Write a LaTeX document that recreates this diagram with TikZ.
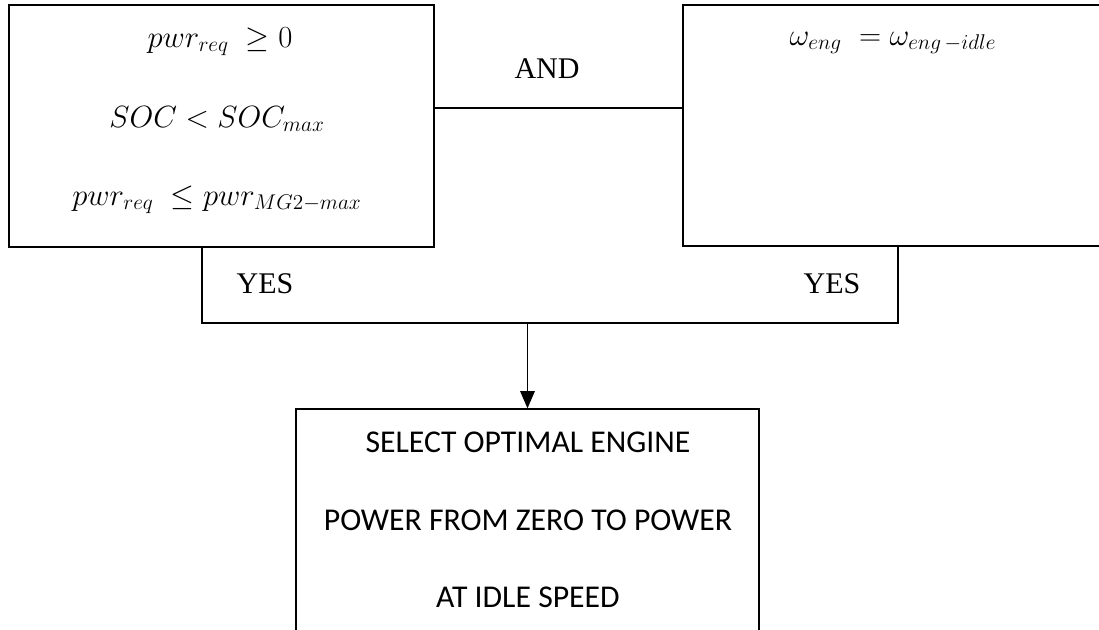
\documentclass[tikz,border=0pt]{standalone}
\usepackage{fontspec}
\setmainfont{Liberation Serif}
\newfontfamily\calfont{Carlito}
\usetikzlibrary{arrows.meta}
\newcommand{\mymath}[1]{\scalebox{1.109}{\fontsize{20.74}{25}\selectfont$#1$}}
\begin{document}
\begin{tikzpicture}[x=0.75pt,y=-0.75pt,
  box/.style={draw, line width=1.4pt, inner sep=0pt},
  edge/.style={line width=1.4pt},
  mathtxt/.style={anchor=base, inner sep=0pt},
  lbl/.style={font=\fontsize{22.5}{27}\selectfont, anchor=base, inner sep=0pt},
  seltxt/.style={font=\calfont\fontsize{23.8}{28}\selectfont, anchor=base, inner sep=0pt}]
\useasboundingbox (0,0) rectangle (1099,629);
% boxes
\node[box, minimum width=318.75pt, minimum height=181.5pt] (cond) at (221.5,126) {};
\node[box, minimum width=324pt, minimum height=180.75pt] (speed) at (899,125.5) {};
\node[minimum width=522pt, minimum height=57pt, inner sep=0pt] (yes) at (550,285) {};
\draw[edge] (yes.north west) -- (yes.south west) -- (yes.south east) -- (yes.north east);
\node[draw, line width=1pt, minimum width=347.25pt, minimum height=188.25pt, inner sep=0pt] (sel) at (527.5,534.5) {};
% texts
\node[mathtxt] (c1) at (220,47) {\mymath{pwr_{req}\;\geq 0}};
\node[mathtxt] (c2) at (217,127) {\mymath{SOC < SOC_{max}}};
\node[mathtxt] (c3) at (217,205) {\mymath{pwr_{req}\;\leq pwr_{MG2-max}}};
\node[mathtxt] (w1) at (893,45) {\mymath{\omega_{eng}\;=\omega_{eng\,-idle}}};
\node[lbl] (and) at (547,78) {AND};
\node[lbl] (yes1) at (265,293) {YES};
\node[lbl] (yes2) at (832,293) {YES};
\node[seltxt] (s1) at (528,452) {SELECT OPTIMAL ENGINE};
\node[seltxt] (s2) at (528,530) {POWER FROM ZERO TO POWER};
\node[seltxt] (s3) at (528,607) {AT IDLE SPEED};
% connectors
\coordinate (andy) at (0,108);
\draw[edge] (cond.east |- andy) -- (speed.west |- andy);
\draw[line width=1pt, -{Triangle[length=13pt,width=11pt]}] (sel.north |- yes.south) -- (sel.north);
\end{tikzpicture}
\end{document}
